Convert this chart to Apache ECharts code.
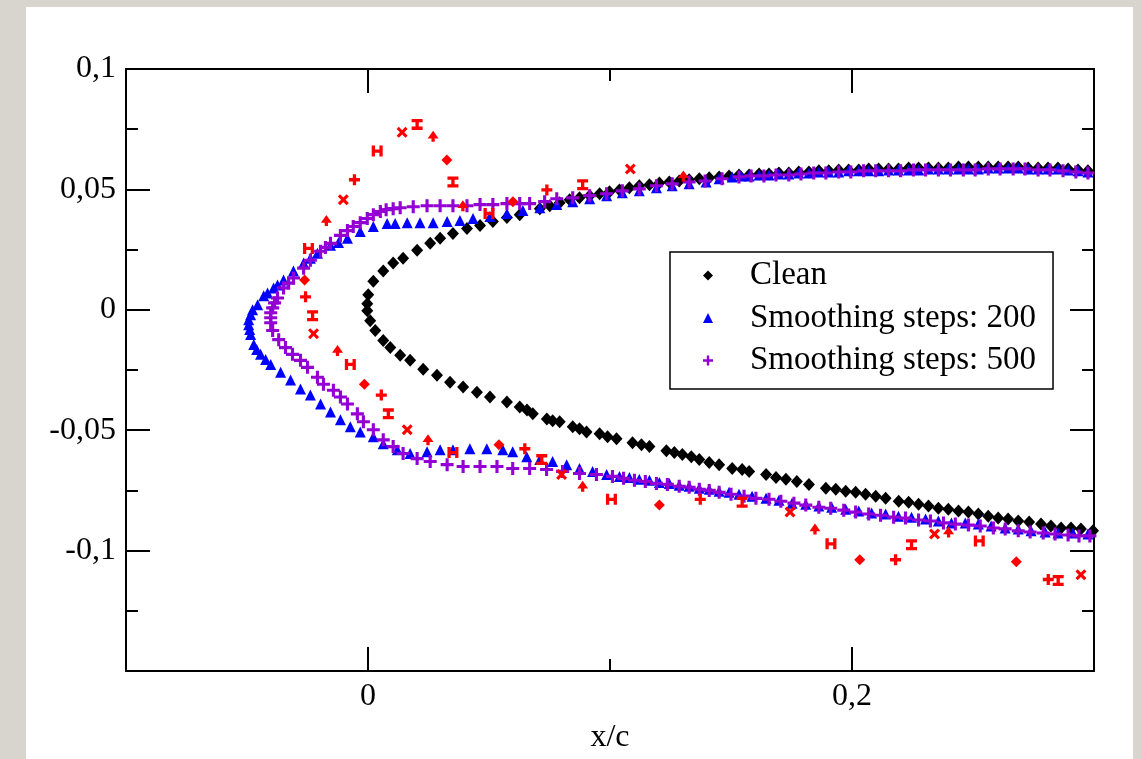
<!DOCTYPE html>
<html>
<head>
<meta charset="utf-8">
<script src="https://cdn.jsdelivr.net/npm/echarts@6/dist/echarts.min.js"></script>
<style>
  html, body { margin: 0; padding: 0; background: #d8d5cf; width: 1141px; height: 759px; overflow: hidden; }
  #chart { position: absolute; left: 26px; top: 7px; width: 1107px; height: 752px; background: #fff; }
</style>
</head>
<body>
<div id="chart"></div>
<script>
// series names (legend)
var seriesNames = ['Clean', 'Smoothing steps: 200', 'Smoothing steps: 500']

// Clean profile [x/c, y/c]
var cleanData = [
  [0.2975, 0.0577], [0.2893, 0.0585], [0.2810, 0.0589], [0.2728, 0.0589], [0.2645, 0.0593],
  [0.2563, 0.0593], [0.2481, 0.0593], [0.2398, 0.0589], [0.2316, 0.0589], [0.2234, 0.0589],
  [0.2151, 0.0585], [0.2069, 0.0585], [0.1986, 0.0581], [0.1904, 0.0577], [0.1822, 0.0572],
  [0.1739, 0.0568], [0.1657, 0.0564], [0.1575, 0.0560], [0.1492, 0.0556], [0.1410, 0.0548],
  [0.1327, 0.0540], [0.1245, 0.0531], [0.1163, 0.0519], [0.1080, 0.0507], [0.0998, 0.0490],
  [0.0916, 0.0474], [0.0833, 0.0457], [0.0751, 0.0432], [0.0710, 0.0420], [0.0627, 0.0395],
  [0.0574, 0.0383], [0.0516, 0.0367], [0.0463, 0.0350], [0.0409, 0.0338], [0.0351, 0.0317],
  [0.0298, 0.0297], [0.0257, 0.0276], [0.0203, 0.0247], [0.0145, 0.0214], [0.0104, 0.0194],
  [0.0063, 0.0161], [0.0022, 0.0119], [0.0001, 0.0062], [-0.0003, 0.0025],
  [-0.0003, -0.0004], [0.0009, -0.0045], [0.0030, -0.0086], [0.0063, -0.0128], [0.0092, -0.0157],
  [0.0133, -0.0189], [0.0174, -0.0210], [0.0228, -0.0247], [0.0285, -0.0272], [0.0339, -0.0301],
  [0.0393, -0.0321], [0.0450, -0.0342], [0.0504, -0.0362], [0.0574, -0.0383], [0.0627, -0.0404],
  [0.0681, -0.0432], [0.0739, -0.0453], [0.0792, -0.0465], [0.0846, -0.0486], [0.0903, -0.0507],
  [0.0957, -0.0515], [0.1027, -0.0535], [0.1093, -0.0552], [0.1163, -0.0568], [0.1233, -0.0585],
  [0.1299, -0.0601], [0.1369, -0.0622], [0.1451, -0.0643], [0.1505, -0.0659], [0.1575, -0.0671],
  [0.1645, -0.0684], [0.1727, -0.0704], [0.1822, -0.0725], [0.1892, -0.0741], [0.1974, -0.0754],
  [0.2056, -0.0766], [0.2139, -0.0783], [0.2193, -0.0795], [0.2275, -0.0807], [0.2357, -0.0824],
  [0.2440, -0.0836], [0.2522, -0.0848], [0.2604, -0.0865], [0.2687, -0.0877], [0.2781, -0.0890],
  [0.2864, -0.0906], [0.2946, -0.0910], [0.2996, -0.0918],
  // denser readings
  [0.2934, 0.0581], [0.2851, 0.0589], [0.2769, 0.0589], [0.2687, 0.0593], [0.2604, 0.0593],
  [0.2522, 0.0593], [0.2440, 0.0593], [0.2357, 0.0589], [0.2275, 0.0589], [0.2192, 0.0585],
  [0.2110, 0.0585], [0.2028, 0.0581], [0.1945, 0.0581], [0.1863, 0.0577], [0.1780, 0.0572],
  [0.1698, 0.0568], [0.1616, 0.0564], [0.1533, 0.0560], [0.1451, 0.0552], [0.1369, 0.0544],
  [0.1286, 0.0535], [0.1204, 0.0527], [0.1121, 0.0515], [0.1039, 0.0498], [0.0957, 0.0482],
  [0.0874, 0.0465], [0.0792, 0.0445],
  [0.0657, -0.0416], [0.0763, -0.0461], [0.0874, -0.0494], [0.0990, -0.0527], [0.1130, -0.0560],
  [0.1266, -0.0593], [0.1336, -0.0610], [0.1410, -0.0634], [0.1546, -0.0663], [0.1686, -0.0696],
  [0.1772, -0.0713], [0.1933, -0.0745], [0.2015, -0.0758], [0.2098, -0.0774], [0.2234, -0.0799],
  [0.2316, -0.0815], [0.2398, -0.0828], [0.2481, -0.0840], [0.2563, -0.0857], [0.2645, -0.0869],
  [0.2732, -0.0881], [0.2822, -0.0898], [0.2905, -0.0906]
]

// 200 smoothing steps
var smooth200Data = [
  [0.2975, 0.0572], [0.2893, 0.0581], [0.2810, 0.0585], [0.2728, 0.0585], [0.2645, 0.0589],
  [0.2563, 0.0589], [0.2481, 0.0585], [0.2398, 0.0585], [0.2316, 0.0585], [0.2234, 0.0581],
  [0.2151, 0.0581], [0.2069, 0.0577], [0.1986, 0.0577], [0.1904, 0.0572], [0.1822, 0.0568],
  [0.1739, 0.0564], [0.1657, 0.0560], [0.1575, 0.0556], [0.1505, 0.0552], [0.1397, 0.0531],
  [0.1327, 0.0523], [0.1257, 0.0515], [0.1192, 0.0507], [0.1121, 0.0494], [0.1051, 0.0486],
  [0.0986, 0.0474], [0.0916, 0.0461], [0.0846, 0.0449], [0.0780, 0.0437], [0.0710, 0.0424],
  [0.0640, 0.0412], [0.0574, 0.0400], [0.0504, 0.0387], [0.0434, 0.0379], [0.0380, 0.0371],
  [0.0327, 0.0367], [0.0269, 0.0362], [0.0215, 0.0362], [0.0162, 0.0362], [0.0112, 0.0358],
  [0.0079, 0.0358], [0.0022, 0.0346], [-0.0032, 0.0325], [-0.0085, 0.0297], [-0.0122, 0.0280],
  [-0.0155, 0.0268], [-0.0209, 0.0235], [-0.0238, 0.0214], [-0.0266, 0.0194], [-0.0308, 0.0161],
  [-0.0349, 0.0124], [-0.0374, 0.0103], [-0.0390, 0.0091], [-0.0415, 0.0070], [-0.0431, 0.0058],
  [-0.0456, 0.0021], [-0.0477, 0.0000], [-0.0485, -0.0021], [-0.0493, -0.0041], [-0.0493, -0.0062],
  [-0.0489, -0.0082], [-0.0485, -0.0103], [-0.0472, -0.0144], [-0.0460, -0.0165], [-0.0444, -0.0185],
  [-0.0423, -0.0206], [-0.0402, -0.0227], [-0.0361, -0.0259], [-0.0320, -0.0292], [-0.0279, -0.0329],
  [-0.0238, -0.0354], [-0.0196, -0.0391], [-0.0155, -0.0424], [-0.0114, -0.0457], [-0.0073, -0.0486],
  [-0.0032, -0.0507], [0.0022, -0.0527], [0.0063, -0.0556], [0.0121, -0.0581], [0.0174, -0.0597],
  [0.0244, -0.0589], [0.0298, -0.0581], [0.0351, -0.0581], [0.0421, -0.0577], [0.0491, -0.0577],
  [0.0557, -0.0581], [0.0598, -0.0589], [0.0656, -0.0610], [0.0710, -0.0622], [0.0763, -0.0630],
  [0.0821, -0.0643], [0.0874, -0.0659], [0.0928, -0.0671], [0.0986, -0.0684], [0.1039, -0.0692],
  [0.1121, -0.0704], [0.1204, -0.0717], [0.1286, -0.0729], [0.1369, -0.0741], [0.1451, -0.0754],
  [0.1533, -0.0766], [0.1645, -0.0783], [0.1752, -0.0803], [0.1863, -0.0815], [0.1974, -0.0828],
  [0.2081, -0.0844], [0.2192, -0.0857], [0.2304, -0.0869], [0.2411, -0.0885], [0.2522, -0.0890],
  [0.2633, -0.0906], [0.2740, -0.0918], [0.2851, -0.0927], [0.2975, -0.0931],
  // denser readings
  [0.2934, 0.0577], [0.2851, 0.0585], [0.2769, 0.0585], [0.2687, 0.0589], [0.2604, 0.0589],
  [0.2522, 0.0585], [0.2440, 0.0585], [0.2357, 0.0585], [0.2275, 0.0581], [0.2192, 0.0581],
  [0.2110, 0.0577], [0.2028, 0.0577], [0.1945, 0.0572], [0.1863, 0.0572], [0.1780, 0.0568],
  [0.1698, 0.0564], [0.1616, 0.0560], [0.1542, 0.0556], [0.1451, 0.0544],
  [0.1080, -0.0696], [0.1163, -0.0708], [0.1245, -0.0721], [0.1327, -0.0733], [0.1410, -0.0745],
  [0.1492, -0.0758], [0.1587, -0.0774], [0.1698, -0.0791], [0.1809, -0.0807], [0.1916, -0.0820],
  [0.2028, -0.0836], [0.2139, -0.0848], [0.2246, -0.0861], [0.2357, -0.0877], [0.2468, -0.0885],
  [0.2575, -0.0898], [0.2687, -0.0910], [0.2798, -0.0923], [0.2913, -0.0927]
]

// 500 smoothing steps
var smooth500Data = [
  [0.2975, 0.0568], [0.2872, 0.0577], [0.2769, 0.0581], [0.2666, 0.0585], [0.2563, 0.0585],
  [0.2460, 0.0581], [0.2357, 0.0581], [0.2254, 0.0581], [0.2151, 0.0577], [0.2048, 0.0577],
  [0.1945, 0.0572], [0.1842, 0.0568], [0.1739, 0.0560], [0.1636, 0.0556], [0.1533, 0.0552],
  [0.1463, 0.0544], [0.1393, 0.0535], [0.1327, 0.0531], [0.1257, 0.0523], [0.1192, 0.0515],
  [0.1121, 0.0502], [0.1051, 0.0494], [0.0986, 0.0482], [0.0916, 0.0474], [0.0846, 0.0465],
  [0.0780, 0.0461], [0.0730, 0.0449], [0.0668, 0.0441], [0.0627, 0.0441], [0.0574, 0.0441],
  [0.0516, 0.0437], [0.0463, 0.0437], [0.0409, 0.0432], [0.0351, 0.0432], [0.0298, 0.0432],
  [0.0244, 0.0432], [0.0187, 0.0428], [0.0133, 0.0424], [0.0104, 0.0420], [0.0075, 0.0416],
  [0.0051, 0.0408], [0.0022, 0.0395], [-0.0003, 0.0379], [-0.0032, 0.0362], [-0.0061, 0.0346],
  [-0.0085, 0.0329], [-0.0114, 0.0309], [-0.0155, 0.0276], [-0.0176, 0.0259], [-0.0196, 0.0243],
  [-0.0238, 0.0206], [-0.0266, 0.0173], [-0.0308, 0.0132], [-0.0328, 0.0111], [-0.0349, 0.0091],
  [-0.0374, 0.0049], [-0.0386, 0.0029], [-0.0394, 0.0008], [-0.0402, -0.0012], [-0.0402, -0.0033],
  [-0.0402, -0.0054], [-0.0394, -0.0086], [-0.0369, -0.0124], [-0.0341, -0.0157], [-0.0312, -0.0185],
  [-0.0279, -0.0210], [-0.0250, -0.0239], [-0.0209, -0.0280], [-0.0184, -0.0309], [-0.0143, -0.0334],
  [-0.0114, -0.0362], [-0.0085, -0.0391], [-0.0044, -0.0432], [-0.0019, -0.0465], [0.0022, -0.0498],
  [0.0063, -0.0540], [0.0104, -0.0568], [0.0145, -0.0597], [0.0203, -0.0618], [0.0257, -0.0630],
  [0.0327, -0.0643], [0.0393, -0.0651], [0.0463, -0.0651], [0.0533, -0.0651], [0.0598, -0.0659],
  [0.0668, -0.0659], [0.0738, -0.0663], [0.0804, -0.0671], [0.0874, -0.0680], [0.0944, -0.0684],
  [0.1010, -0.0692], [0.1101, -0.0708], [0.1192, -0.0721], [0.1286, -0.0733], [0.1369, -0.0745],
  [0.1451, -0.0758], [0.1554, -0.0774], [0.1657, -0.0787], [0.1760, -0.0803], [0.1863, -0.0820],
  [0.1966, -0.0832], [0.2069, -0.0848], [0.2172, -0.0861], [0.2275, -0.0873], [0.2378, -0.0885],
  [0.2481, -0.0894], [0.2584, -0.0906], [0.2687, -0.0918], [0.2790, -0.0927], [0.2893, -0.0935],
  [0.2983, -0.0939],
  // denser readings
  [0.2925, 0.0572], [0.2818, 0.0581], [0.2715, 0.0585], [0.2612, 0.0585], [0.2509, 0.0581],
  [0.2407, 0.0581], [0.2304, 0.0581], [0.2201, 0.0577], [0.2098, 0.0577], [0.1995, 0.0572],
  [0.1892, 0.0568], [0.1789, 0.0564], [0.1686, 0.0560], [0.1583, 0.0556],
  [0.2938, -0.0939], [0.2839, -0.0931], [0.2736, -0.0923], [0.2633, -0.0910], [0.2530, -0.0898],
  [0.2427, -0.0890], [0.2324, -0.0877], [0.2221, -0.0865], [0.2118, -0.0853], [0.2015, -0.0840],
  [0.1912, -0.0824], [0.1809, -0.0811], [0.1706, -0.0795], [0.1603, -0.0783], [0.1500, -0.0766],
  [0.1410, -0.0750], [0.1327, -0.0737], [0.1237, -0.0725], [0.1146, -0.0713], [0.1056, -0.0700]
]

// red points (not in legend)
var roughData = [
  [0.0203, 0.0770], [0.0141, 0.0737], [0.0269, 0.0721], [0.0038, 0.0659], [0.0326, 0.0622],
  [-0.0056, 0.0540], [0.0351, 0.0531], [-0.0102, 0.0457], [-0.0172, 0.0371], [-0.0246, 0.0255],
  [-0.0262, 0.0124], [-0.0258, 0.0054], [-0.0229, -0.0025], [-0.0225, -0.0099], [-0.0126, -0.0169],
  [-0.0073, -0.0227], [-0.0015, -0.0309], [0.0055, -0.0354], [0.0084, -0.0432], [0.0162, -0.0498],
  [0.0248, -0.0540], [0.0351, -0.0593], [0.0541, -0.0560], [0.0648, -0.0577], [0.0718, -0.0622],
  [0.0800, -0.0684], [0.0887, -0.0733], [0.1006, -0.0787], [0.1204, -0.0811], [0.1373, -0.0787],
  [0.1546, -0.0799], [0.1744, -0.0840], [0.1847, -0.0910], [0.1913, -0.0972], [0.2032, -0.1038],
  [0.2180, -0.1038], [0.2246, -0.0976], [0.2341, -0.0931], [0.2399, -0.0923], [0.2526, -0.0960],
  [0.2679, -0.1046], [0.2811, -0.1120], [0.2852, -0.1124], [0.2946, -0.1100],
  [0.0392, 0.0432], [0.0500, 0.0400], [0.0599, 0.0449], [0.0739, 0.0498], [0.0887, 0.0519],
  [0.1084, 0.0585], [0.1303, 0.0556]
]

// ticks
var xMajorTicks = [0, 0.2]
var yMin = -0.15, yMax = 0.1, yStep = 0.05
var xMin = -0.1, xMax = 0.3, xMinorStep = 0.1

var plusPath = 'path://M3.8,0H6.2V3.8H10V6.2H6.2V10H3.8V6.2H0V3.8H3.8Z'
var redSymbols = [
  'path://M0,0H10V3H6.5V7H10V10H0V7H3.5V3H0Z',
  'path://M0,2L2,0L5,3L8,0L10,2L7,5L10,8L8,10L5,7L2,10L0,8L3,5Z',
  'path://M5,0L10,7H6.5V10H3.5V7H0Z',
  'path://M0,0H3V3.5H7V0H10V10H7V6.5H3V10H0Z',
  'diamond',
  'path://M3.5,0H6.5V3.5H10V6.5H6.5V10H3.5V6.5H0V3.5H3.5Z'
]

var serif = '"Liberation Serif", "DejaVu Serif", serif'
function fmt (v) {
  var r = Math.round(v * 1000) / 1000
  return String(r).replace('.', ',')
}

var axisLineStyle = { color: '#000', width: 2 }

function xAxisDef (pos, major, withLabel) {
  return {
    type: 'value', min: xMin, max: xMax, interval: xMinorStep, position: pos,
    axisLine: { show: major, onZero: false, lineStyle: axisLineStyle },
    axisTick: major
      ? { show: true, inside: true, length: 24, customValues: xMajorTicks, lineStyle: axisLineStyle }
      : { show: true, inside: true, length: 12, lineStyle: axisLineStyle },
    axisLabel: withLabel
      ? { show: true, customValues: xMajorTicks, formatter: fmt, fontFamily: serif, fontSize: 32, color: '#000', margin: 10 }
      : { show: false },
    splitLine: { show: false },
    name: withLabel ? 'x/c' : '',
    nameLocation: 'middle',
    nameGap: 51,
    nameTextStyle: { fontFamily: serif, fontSize: 32, color: '#000' }
  }
}

function yAxisDef (pos, withLabel) {
  return {
    type: 'value', min: yMin, max: yMax, interval: yStep, position: pos,
    axisLine: { show: true, onZero: false, lineStyle: axisLineStyle },
    axisTick: { show: true, inside: true, length: 24, lineStyle: axisLineStyle },
    minorTick: { show: true, splitNumber: 2, length: 12, lineStyle: axisLineStyle },
    axisLabel: withLabel
      ? { show: true, fontFamily: serif, fontSize: 32, color: '#000', margin: 10,
          formatter: function (v) { return v < -0.12 ? '' : fmt(v) } }
      : { show: false },
    splitLine: { show: false },
    minorSplitLine: { show: false }
  }
}

var option = {
  animation: false,
  backgroundColor: '#fff',
  grid: { left: 100, top: 62, width: 968, height: 606, containLabel: false },
  legend: {
    data: seriesNames,
    orient: 'vertical',
    left: 644,
    top: 245,
    padding: [7, 17, 12, 33],
    itemWidth: 10,
    itemHeight: 10,
    itemGap: 9.5,
    borderColor: '#000',
    borderWidth: 1.5,
    backgroundColor: '#fff',
    formatter: function (name) { return '{t|' + name + '}' },
    textStyle: {
      rich: { t: { fontFamily: serif, fontSize: 33, lineHeight: 32, color: '#000', padding: [0, 0, 0, 32] } }
    }
  },
  xAxis: [
    xAxisDef('bottom', true, true),
    xAxisDef('bottom', false, false),
    xAxisDef('top', true, false),
    xAxisDef('top', false, false)
  ],
  yAxis: [
    yAxisDef('left', true),
    yAxisDef('right', false)
  ],
  series: [
    {
      name: seriesNames[0], type: 'scatter', data: cleanData,
      symbol: 'diamond', symbolSize: [12, 13], itemStyle: { color: '#000', opacity: 1 }
    },
    {
      name: seriesNames[1], type: 'scatter', data: smooth200Data,
      symbol: 'triangle', symbolSize: 11, itemStyle: { color: '#0000ff', opacity: 1 }
    },
    {
      name: seriesNames[2], type: 'scatter', data: smooth500Data,
      symbol: plusPath, symbolSize: 13, itemStyle: { color: '#9400d3', opacity: 1 }
    },
    {
      name: 'rough', type: 'scatter', data: roughData,
      symbol: function (v, params) { return redSymbols[params.dataIndex % redSymbols.length] },
      symbolSize: 11, itemStyle: { color: '#ff0000', opacity: 1 }
    }
  ]
}

var myChart = echarts.init(document.getElementById('chart'))
myChart.setOption(option)
</script>
</body>
</html>
